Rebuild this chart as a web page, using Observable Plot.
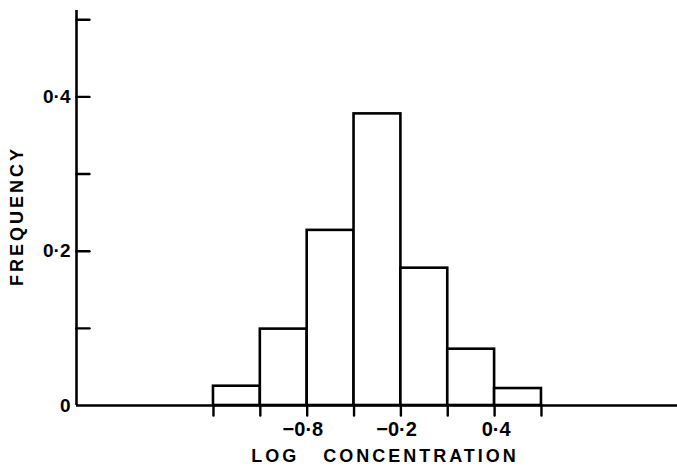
<!DOCTYPE html>
<html><head><meta charset="utf-8">
<script src="https://cdn.jsdelivr.net/npm/d3@7"></script>
<script src="https://cdn.jsdelivr.net/npm/@observablehq/plot@0.6"></script>
<style>body{margin:0;background:#fff;} #chart svg{display:block;}</style>
</head><body><div id="chart"></div>
<script>
const binStart = [-1.4, -1.1, -0.8, -0.5, -0.2, 0.1, 0.4];
const binEnd = [-1.1, -0.8, -0.5, -0.2, 0.1, 0.4, 0.7];
const frequency = [0.025, 0.099, 0.227, 0.378, 0.178, 0.073, 0.022];
const xTickValues = [-1.4, -1.1, -0.8, -0.5, -0.2, 0.1, 0.4, 0.7];
const xLabelValues = [-0.8, -0.2, 0.4];
const xTickLabels = ["−0·8", "−0·2", "0·4"];
const yTickValues = [0.1, 0.2, 0.3, 0.4, 0.5];
const yLabelValues = [0, 0.2, 0.4];
const yTickLabels = ["0", "0·2", "0·4"];
const xTitle = "LOG   CONCENTRATION";
const yTitle = "FREQUENCY";

const xMin = -2.277, xMax = 1.571, yMax = 0.512;
const bars = binStart.map((s, i) => ({x1: s, x2: binEnd[i], y: frequency[i]}));
const font = "'Liberation Sans', Arial, sans-serif";

const tickRight = {draw(ctx, l) { ctx.moveTo(0, 0); ctx.lineTo(l, 0); }};
const tickDown = {draw(ctx, l) { ctx.moveTo(0, 0); ctx.lineTo(0, l); }};

const chart = Plot.plot({
  width: 677,
  height: 468,
  marginLeft: 76,
  marginRight: 0,
  marginTop: 10,
  marginBottom: 63,
  style: {fontFamily: font, background: "#fff", color: "#000"},
  x: {domain: [xMin, xMax], axis: null},
  y: {domain: [0, yMax], axis: null},
  marks: [
    Plot.rectY(bars, {x1: "x1", x2: "x2", y: "y", fill: "white", stroke: "black", strokeWidth: 2.6}),
    Plot.ruleY([0], {stroke: "black", strokeWidth: 2.6}),
    Plot.ruleX([xMin], {stroke: "black", strokeWidth: 2.6}),
    Plot.vector(yTickValues, {x: xMin, y: d => d, length: 13, anchor: "start", shape: tickRight, stroke: "black", strokeWidth: 2.4}),
    Plot.vector(xTickValues, {x: d => d, y: 0, length: 10, anchor: "start", shape: tickDown, stroke: "black", strokeWidth: 2.4}),
    Plot.text(xLabelValues, {x: d => d, y: 0, text: (d, i) => xTickLabels[i], textAnchor: "end", dx: 16, dy: 24, fontSize: 20, fontWeight: "bold"}),
    Plot.text(yLabelValues, {x: xMin, y: d => d, text: (d, i) => yTickLabels[i], textAnchor: "end", dx: -6, fontSize: 19, fontWeight: "bold"}),
    Plot.text([xTitle], {frameAnchor: "bottom", dx: 8, dy: 56, fontSize: 18, fontWeight: "bold"}),
    Plot.text([yTitle], {frameAnchor: "left", textAnchor: "middle", rotate: -90, dx: -59, dy: 8, fontSize: 18, fontWeight: "bold"})
  ]
});
chart.querySelectorAll("text").forEach(t => {
  if (t.textContent === xTitle || t.textContent === yTitle) t.style.letterSpacing = "3px";
  t.style.whiteSpace = "pre";
});
document.getElementById("chart").appendChild(chart);
</script>
</body></html>
